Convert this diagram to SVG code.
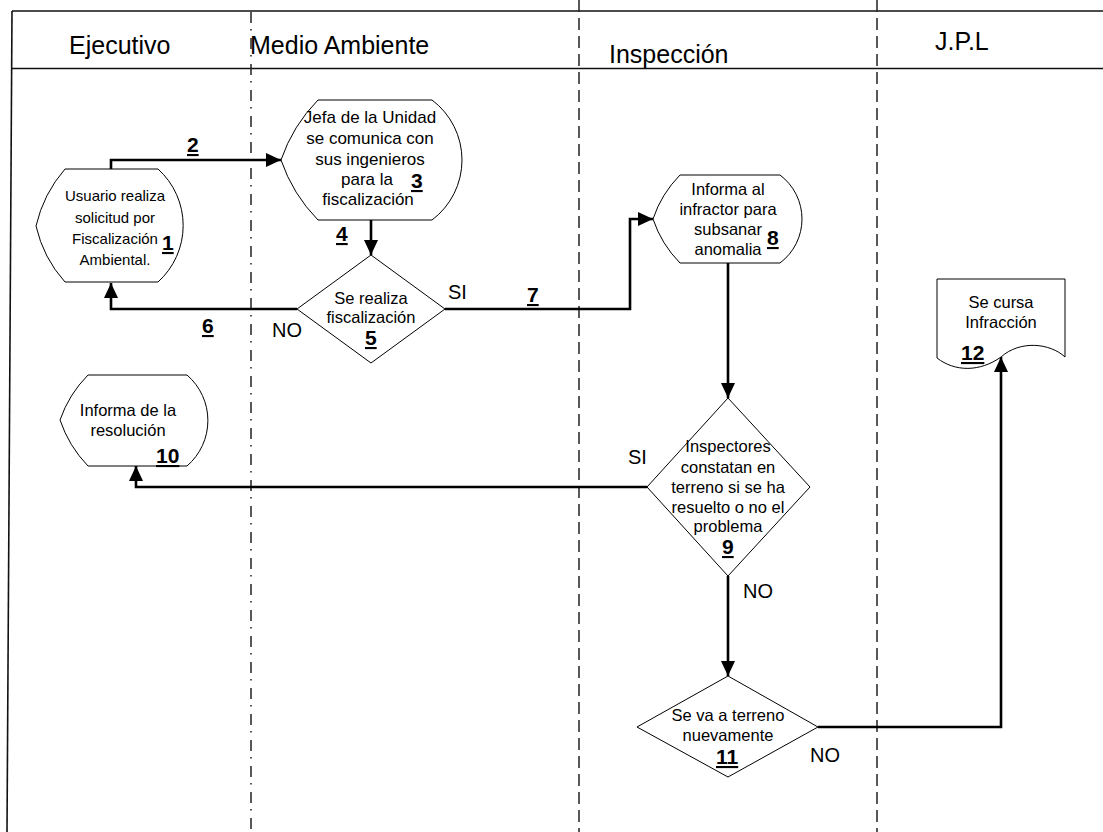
<svg xmlns="http://www.w3.org/2000/svg" width="1103" height="832" viewBox="0 0 1103 832">
  <defs>
    <style>
      .frame { stroke: #111; stroke-width: 1.6; fill: none; }
      .lane-dashdot { stroke: #222; stroke-width: 1.5; stroke-dasharray: 11 6 1.5 7.5; fill: none; }
      .lane-dash { stroke: #222; stroke-width: 1.5; stroke-dasharray: 12 6; fill: none; }
      .shape { fill: #fff; stroke: #000; stroke-width: 1; }
      .conn { fill: none; stroke: #000; stroke-width: 2.6; marker-end: url(#arrow); }
      .head { font-family: "Liberation Sans", Arial, sans-serif; font-size: 25px; fill: #000; }
      .txt { font-family: "Liberation Sans", Arial, sans-serif; font-size: 16.5px; fill: #000; text-anchor: middle; }
      .num { font-family: "Liberation Sans", Arial, sans-serif; font-size: 21px; font-weight: bold; fill: #000; text-decoration: underline; }
      .cond { font-family: "Liberation Sans", Arial, sans-serif; font-size: 20px; fill: #000; }
    </style>
    <marker id="arrow" viewBox="0 0 15 14" refX="15" refY="7" markerWidth="15" markerHeight="14" markerUnits="userSpaceOnUse" orient="auto">
      <path d="M0,0 L15,7 L0,14 Z" fill="#000"/>
    </marker>
  </defs>

  <rect width="1103" height="832" fill="#fff"/>

  <!-- swimlane frame and headers -->
  <g id="lanes">
    <line class="frame" x1="12" y1="11" x2="1103" y2="11"/>
    <line class="frame" x1="12" y1="68.5" x2="1103" y2="68.5"/>
    <line class="frame" x1="12" y1="11" x2="7" y2="832"/>
    <line class="lane-dashdot" x1="251" y1="12" x2="251" y2="832"/>
    <line class="lane-dash" x1="579" y1="0" x2="579" y2="832"/>
    <line class="lane-dash" x1="877" y1="0" x2="877" y2="832"/>
    <text class="head" x="69" y="54">Ejecutivo</text>
    <text class="head" x="250" y="54">Medio Ambiente</text>
    <text class="head" x="609" y="63">Inspección</text>
    <text class="head" x="935" y="50">J.P.L</text>
  </g>

  <!-- connectors -->
  <g id="connectors">
    <path class="conn" d="M111,169 V160 H281"/>
    <path class="conn" d="M371,220 V255"/>
    <path class="conn" d="M297,309 H111 V283"/>
    <path class="conn" d="M445,309 H630 V219 H653"/>
    <path class="conn" d="M728,263 V398"/>
    <path class="conn" d="M647,487 H136 V466"/>
    <path class="conn" d="M728,576 V676"/>
    <path class="conn" d="M818,727 H1001 V357"/>
    <text class="num" x="187" y="152">2</text>
    <text class="num" x="336" y="241">4</text>
    <text class="num" x="202" y="333">6</text>
    <text class="cond" x="272" y="337">NO</text>
    <text class="cond" x="448" y="299">SI</text>
    <text class="num" x="527" y="302">7</text>
    <text class="cond" x="628" y="464">SI</text>
    <text class="cond" x="743" y="598">NO</text>
    <text class="cond" x="810" y="762">NO</text>
  </g>

  <!-- 1: user request -->
  <g id="node1">
    <path class="shape" d="M36,226 Q43.4,193.9 65,169 H158 A76,76 0 0 1 158,282 H65 Q43.4,258.1 36,226 Z"/>
    <text class="txt" style="font-size:15px" x="115" y="201">Usuario realiza</text>
    <text class="txt" style="font-size:15px" x="115" y="223">solicitud por</text>
    <text class="txt" style="font-size:15px" x="115" y="244">Fiscalización</text>
    <text class="txt" style="font-size:15px" x="115" y="265">Ambiental.</text>
    <text class="num" x="162" y="250">1</text>
  </g>

  <!-- 3: unit head contacts engineers -->
  <g id="node3">
    <path class="shape" d="M281,160 Q292.7,125.8 318,100 H432 A75,75 0 0 1 432,220 H318 Q292.7,194.2 281,160 Z"/>
    <text class="txt" style="font-size:17px" x="370" y="123">Jefa de la Unidad</text>
    <text class="txt" style="font-size:17px" x="370" y="144">se comunica con</text>
    <text class="txt" style="font-size:17px" x="370" y="165">sus ingenieros</text>
    <text class="txt" style="font-size:17px" x="367" y="185">para la</text>
    <text class="txt" style="font-size:17px" x="368" y="205">fiscalización</text>
    <text class="num" x="411" y="188">3</text>
  </g>

  <!-- 5: inspection decision -->
  <g id="node5">
    <polygon class="shape" points="371,255 445,309 371,363 297,309"/>
    <text class="txt" x="371" y="304">Se realiza</text>
    <text class="txt" x="371" y="323">fiscalización</text>
    <text class="num" x="365" y="345">5</text>
  </g>

  <!-- 8: notify offender -->
  <g id="node8">
    <path class="shape" d="M653,219 Q661.4,193.9 680,175 H780 A55,55 0 0 1 780,263 H680 Q661.4,244.1 653,219 Z"/>
    <text class="txt" x="728" y="195">Informa al</text>
    <text class="txt" x="728" y="215">infractor para</text>
    <text class="txt" x="728" y="235">subsanar</text>
    <text class="txt" x="728" y="255">anomalia</text>
    <text class="num" x="767" y="245">8</text>
  </g>

  <!-- 9: field check -->
  <g id="node9">
    <polygon class="shape" points="728,398 810,487 728,576 647,487"/>
    <text class="txt" x="728" y="452">Inspectores</text>
    <text class="txt" x="728" y="473">constatan en</text>
    <text class="txt" x="728" y="493">terreno si se ha</text>
    <text class="txt" x="728" y="513">resuelto o no el</text>
    <text class="txt" x="728" y="532">problema</text>
    <text class="num" x="722" y="554">9</text>
  </g>

  <!-- 10: resolution report -->
  <g id="node10">
    <path class="shape" d="M60,420 Q68.9,394.3 88,375 H187 A60,60 0 0 1 187,466 H88 Q68.9,446.2 60,420 Z"/>
    <text class="txt" x="128" y="416">Informa de la</text>
    <text class="txt" x="128" y="436">resolución</text>
    <text class="num" x="156" y="463">10</text>
  </g>

  <!-- 11: revisit decision -->
  <g id="node11">
    <polygon class="shape" points="728,676 818,727 728,777 637,727"/>
    <text class="txt" x="728" y="721">Se va a terreno</text>
    <text class="txt" x="728" y="741">nuevamente</text>
    <text class="num" x="716" y="764">11</text>
  </g>

  <!-- 12: infraction document -->
  <g id="node12">
    <path class="shape" d="M937,279 H1065 V357 C1050,343 1020,340 1001,357 C980,372 955,372 937,358 Z"/>
    <text class="txt" x="1001" y="308">Se cursa</text>
    <text class="txt" x="1001" y="328">Infracción</text>
    <text class="num" x="961" y="360">12</text>
  </g>
</svg>
